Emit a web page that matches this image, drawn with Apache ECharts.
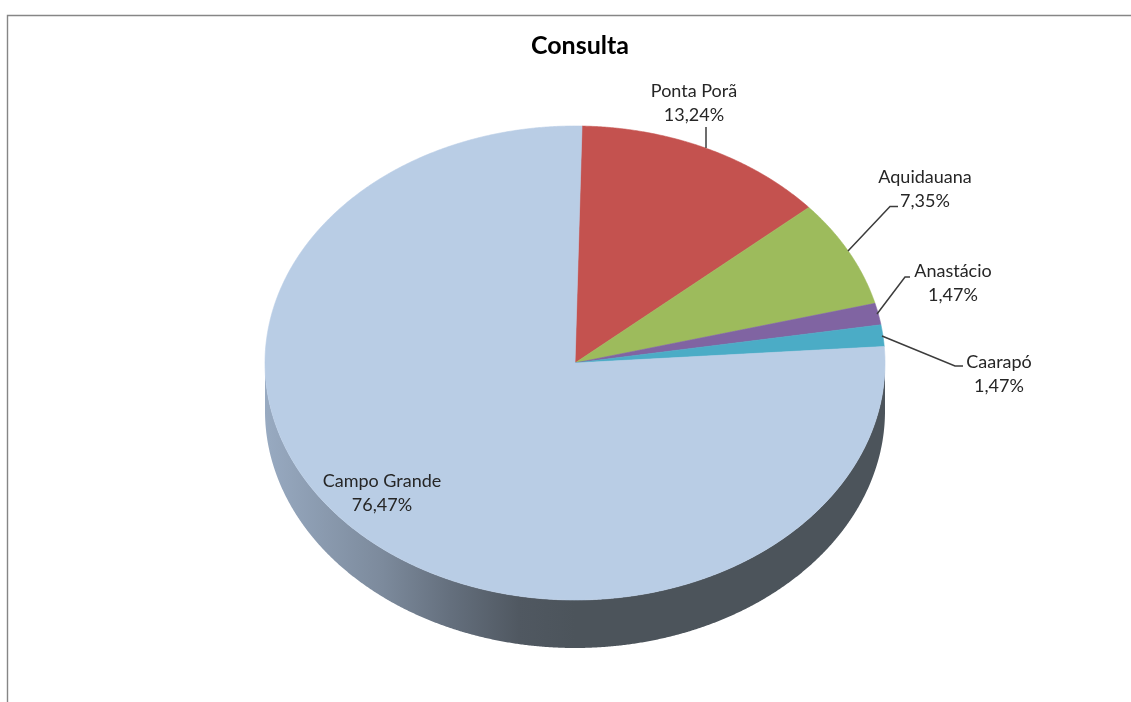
<!DOCTYPE html>
<html><head><meta charset="utf-8">
<style>html,body{margin:0;padding:0;background:#fff}#c{width:1131px;height:702px}</style>
<script src="https://cdn.jsdelivr.net/npm/echarts@6/dist/echarts.min.js"></script>
</head><body><div id="c"></div>
<script>
const categories = ['Ponta Porã','Aquidauana','Anastácio','Caarapó','Campo Grande'];
const values = [13.24,7.35,1.47,1.47,76.47];
const colors = ['#c4524f','#9dbb5c','#8064a2','#4bacc6','#b9cde5'];
const startDeg = 1.3;
const depth = 0.2025;
const fontFam = 'Lato, "Open Sans", sans-serif';
// label placement, screen pixels: centre x, first-line y, leader polyline
const labelLayout = [
  {x:694,y:91, leader:[[706,127],[706,148]]},
  {x:925,y:177,leader:[[848,251],[890,206.5],[898,206.5]]},
  {x:953,y:271,leader:[[877,314],[905,277],[910,277]]},
  {x:999,y:362,leader:[[882,336],[955,366],[963,366]]},
  {x:382,y:481,leader:null}
];
const total = values.reduce((a,b)=>a+b,0);
const pct = v => v.toFixed(2).replace('.',',')+'%';
const arc = (api,a0,a1,dy) => {
  const pts=[]; const n=Math.max(2,Math.ceil(Math.abs(a1-a0)*4));
  for(let i=0;i<=n;i++){const a=(a0+(a1-a0)*i/n)*Math.PI/180;
    pts.push(api.coord([Math.sin(a),Math.cos(a)-(dy||0)]));}
  return pts;
};
const renderWall=(p,api)=>{
  const top=arc(api,90,270,0), bot=arc(api,270,90,depth);
  const x0=api.coord([-1,0])[0], x1=api.coord([1,0])[0];
  return {type:'polygon',shape:{points:top.concat(bot)},style:{
    fill:new echarts.graphic.LinearGradient(x0,0,x1,0,[
      {offset:0,color:'#98aac1'},{offset:0.19,color:'#7c8a9c'},
      {offset:0.3,color:'#646f7d'},{offset:0.41,color:'#505861'},
      {offset:0.5,color:'#4c545b'},{offset:1,color:'#4c545b'}],true)}};
};
const renderSlice=(p,api)=>{
  const i=p.dataIndex;
  let before=0; for(let k=0;k<i;k++)before+=values[k];
  const a0=startDeg+before/total*360, a1=startDeg+(before+values[i])/total*360;
  const pts=[api.coord([0,0])].concat(arc(api,a0,a1,0));
  return {type:'polygon',shape:{points:pts},style:{fill:colors[i],stroke:colors[i],lineWidth:0.6}};
};
const renderLabel=(p,api)=>{
  const i=p.dataIndex,l=labelLayout[i],ch=[];
  if(l.leader)ch.push({type:'polyline',shape:{points:l.leader},style:{fill:null,stroke:'#3c3c3c',lineWidth:1.5}});
  ch.push({type:'text',style:{x:l.x,y:l.y,text:categories[i],align:'center',verticalAlign:'middle',fill:'#262626',font:'18px '+fontFam}});
  ch.push({type:'text',style:{x:l.x,y:l.y+24,text:pct(values[i]),align:'center',verticalAlign:'middle',fill:'#262626',font:'18px '+fontFam}});
  return {type:'group',children:ch};
};
const sliceData=values.map((v,i)=>({name:categories[i],value:[0,0,v]}));
const chart=echarts.init(document.getElementById('c'),null,{renderer:'canvas'});
chart.setOption({
  animation:false,backgroundColor:'#ffffff',
  title:{text:'Consulta',left:575,top:28,textAlign:'center',
    textStyle:{fontFamily:fontFam,fontSize:25,fontWeight:'bold',color:'#000'}},
  grid:{left:265,width:620,top:126,height:522},
  xAxis:{type:'value',min:-1,max:1,show:false},
  yAxis:{type:'value',min:-1-depth,max:1,show:false},
  graphic:[
    {type:'polyline',shape:{points:[[7.5,702],[7.5,15.5],[1131,15.5]]},style:{fill:null,stroke:'#868686',lineWidth:1.4},silent:true}
  ],
  series:[
    {type:'custom',name:'wall',coordinateSystem:'cartesian2d',clip:false,silent:true,data:[[0,0]],renderItem:renderWall,z:2},
    {type:'custom',name:'slices',coordinateSystem:'cartesian2d',clip:false,silent:true,data:sliceData,renderItem:renderSlice,z:3},
    {type:'custom',name:'labels',coordinateSystem:'cartesian2d',clip:false,silent:true,data:sliceData,renderItem:renderLabel,z:4}
  ]
});
</script></body></html>
